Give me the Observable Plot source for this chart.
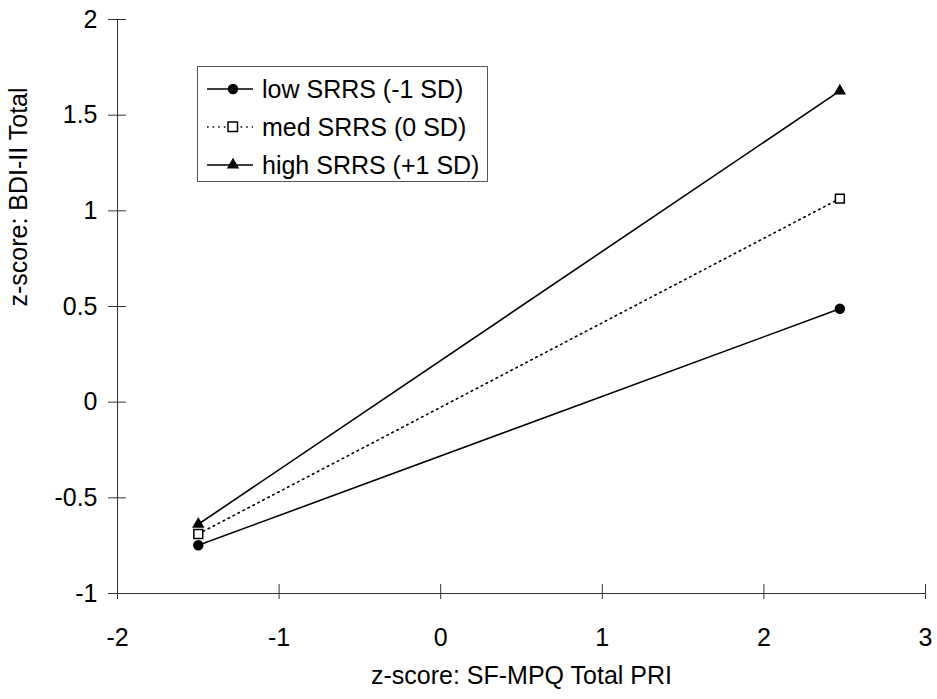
<!DOCTYPE html>
<html>
<head>
<meta charset="utf-8">
<script src="https://cdn.jsdelivr.net/npm/d3@7"></script>
<script src="https://cdn.jsdelivr.net/npm/@observablehq/plot@0.6"></script>
<style>
  body { margin: 0; background: #fff; }
  #wrap { position: relative; width: 937px; height: 699px; font-family: "Liberation Sans", Arial, sans-serif; }
  #legend { position: absolute; left: 197px; top: 66px; width: 291px; height: 116px; border: 1px solid #555; box-sizing: border-box; background: #fff; }
  .row { position: absolute; left: 0; height: 30px; display: flex; align-items: center; }
  .row span { font-size: 25px; color: #000; margin-left: 8px; white-space: nowrap; }
</style>
</head>
<body>
<div id="wrap"></div>
<script>
// Data
const xValues = [-1.5, 2.47];
const series = ["low SRRS (-1 SD)", "med SRRS (0 SD)", "high SRRS (+1 SD)"];
const lowValues = [-0.748, 0.488];
const medValues = [-0.689, 1.064];
const highValues = [-0.638, 1.627];
const xTicks = [-2, -1, 0, 1, 2, 3];
const yTicks = [-1, -0.5, 0, 0.5, 1, 1.5, 2];
const xLabel = "z-score: SF-MPQ Total PRI";
const yLabel = "z-score: BDI-II Total";

const toRows = (vals) => xValues.map((x, i) => ({x, y: vals[i]}));
const low = toRows(lowValues), med = toRows(medValues), high = toRows(highValues);

const font = "Liberation Sans, Arial, sans-serif";
const plot = Plot.plot({
  width: 937,
  height: 699,
  marginLeft: 117,
  marginRight: 12,
  marginTop: 19,
  marginBottom: 106,
  style: {fontFamily: font, background: "#fff", color: "#000"},
  x: {domain: [-2, 3], label: null},
  y: {domain: [-1, 2], label: null},
  marks: [
    Plot.ruleX([-2], {stroke: "#333", strokeWidth: 1}),
    Plot.ruleY([-1], {stroke: "#333", strokeWidth: 1}),
    Plot.axisX({ticks: xTicks, tickSize: 15, dy: -9, tickFormat: () => "", stroke: "#333", label: null}),
    Plot.axisY({ticks: yTicks, tickSize: 18, dx: 9, tickFormat: () => "", stroke: "#333", label: null}),
    Plot.axisX({ticks: xTicks, tickSize: 0, tickPadding: 35, fontSize: 25, label: null, tickFormat: d => String(d).replace("−", "-")}),
    Plot.axisY({ticks: yTicks, tickSize: 0, tickPadding: 20, fontSize: 25, label: null, tickFormat: d => String(d).replace("−", "-")}),
    Plot.text([xLabel], {frameAnchor: "bottom", dy: 90, fontSize: 25, text: d => d}),
    Plot.text([yLabel], {frameAnchor: "left", dx: -99, rotate: -90, fontSize: 25, text: d => d}),
    Plot.line(low, {x: "x", y: "y", stroke: "#000", strokeWidth: 1.6}),
    Plot.line(med, {x: "x", y: "y", stroke: "#000", strokeWidth: 1.6, strokeDasharray: "1.6,4"}),
    Plot.line(high, {x: "x", y: "y", stroke: "#000", strokeWidth: 1.6}),
    Plot.dot(low, {x: "x", y: "y", r: 5.2, fill: "#000", symbol: "circle"}),
    Plot.dot(med, {x: "x", y: "y", r: 5, fill: "#fff", stroke: "#000", strokeWidth: 1.5, symbol: "square"}),
    Plot.dot(high, {x: "x", y: "y", r: 4.6, fill: "#000", symbol: "triangle"})
  ]
});
const wrap = document.getElementById("wrap");
wrap.appendChild(plot);

// Legend overlay
const legend = document.createElement("div");
legend.id = "legend";
const samples = [
  `<line x1="9" x2="55" y1="15" y2="15" stroke="#000" stroke-width="1.6"/><circle cx="35" cy="15" r="5.2" fill="#000"/>`,
  `<line x1="9" x2="55" y1="15" y2="15" stroke="#000" stroke-width="1.6" stroke-dasharray="1.6,4"/><rect x="30" y="10" width="9.5" height="9.5" fill="#fff" stroke="#000" stroke-width="1.5"/>`,
  `<line x1="9" x2="55" y1="15" y2="15" stroke="#000" stroke-width="1.6"/><path d="${d3.symbol(d3.symbolTriangle, Math.PI * 4.6 * 4.6)()}" transform="translate(35,15)" fill="#000"/>`
];
const rowTops = [7, 45, 83];
series.forEach((name, i) => {
  const row = document.createElement("div");
  row.className = "row";
  row.style.top = rowTops[i] + "px";
  row.innerHTML = `<svg width="56" height="30">${samples[i]}</svg><span>${name}</span>`;
  legend.appendChild(row);
});
wrap.appendChild(legend);
</script>
</body>
</html>
